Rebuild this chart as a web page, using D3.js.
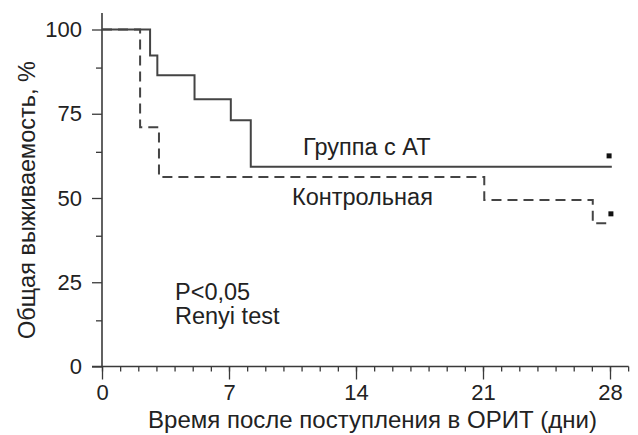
<!DOCTYPE html>
<html><head><meta charset="utf-8">
<script src="https://cdn.jsdelivr.net/npm/d3@7"></script>
<style>
body{margin:0;background:#fff;}
svg text{font-family:"Liberation Sans",Arial,Helvetica,sans-serif;fill:#222;}
</style></head>
<body><svg id="c" width="638" height="435"></svg>
<script>
// Data
const xTicks = [0, 7, 14, 21, 28];
const xMinorTicks = d3.range(0, 30);
const yTicks = [0, 25, 50, 75, 100];
const yMinorTicks = [13.7, 38.8, 63.7, 88.7];

const treatedTimes = [0, 2.65, 3.05, 5.1, 7.1, 8.2, 28.1];
const treatedSurv  = [100, 92.3, 86.4, 79.3, 73.1, 59.3, 59.3];
const controlTimes = [0, 2.1, 3.14, 21.07, 27.05, 28.05];
const controlSurv  = [100, 71.0, 56.2, 49.4, 42.5, 42.5];
const treatedCensor = [{t: 27.95, s: 62.5}];
const controlCensor = [{t: 28.05, s: 45.3}];

const svg = d3.select("#c");
const x = d3.scaleLinear().domain([0, 28]).range([102, 610]);
const y = d3.scaleLinear().domain([0, 100]).range([366.5, 29.5]);
const axisColor = "#3a3a3a";
const lineColor = "#444";
const labelSize = 23.5;

// Y axis
svg.append("line").attr("x1", x(0)).attr("x2", x(0)).attr("y1", 13).attr("y2", y(0))
  .attr("stroke", axisColor).attr("stroke-width", 1.6);
const yAxis = svg.append("g").attr("transform", `translate(${x(0)},0)`)
  .call(d3.axisLeft(y).tickValues(yTicks).tickSize(10).tickPadding(10).tickFormat(d3.format("d")));
yAxis.select(".domain").remove();
yAxis.selectAll(".tick line").attr("stroke", axisColor).attr("stroke-width", 1.3);
yAxis.selectAll(".tick text").attr("font-size", 22).attr("fill", "#222").attr("font-family", null);
const yMinor = svg.append("g").attr("transform", `translate(${x(0)},0)`)
  .call(d3.axisLeft(y).tickValues(yMinorTicks).tickSize(6).tickFormat(""));
yMinor.select(".domain").remove();
yMinor.selectAll(".tick line").attr("stroke", axisColor).attr("stroke-width", 1.3);

// X axis
svg.append("line").attr("x1", 92).attr("x2", x(29) + 0.5).attr("y1", y(0)).attr("y2", y(0))
  .attr("stroke", axisColor).attr("stroke-width", 1.6);
const xMinor = svg.append("g").attr("transform", `translate(0,${y(0)})`)
  .call(d3.axisBottom(x).tickValues(xMinorTicks).tickSize(5).tickFormat(""));
xMinor.select(".domain").remove();
xMinor.selectAll(".tick line").attr("stroke", axisColor).attr("stroke-width", 1.3);
const xAxis = svg.append("g").attr("transform", `translate(0,${y(0)})`)
  .call(d3.axisBottom(x).tickValues(xTicks).tickSize(13).tickPadding(5).tickFormat(d3.format("d")));
xAxis.select(".domain").remove();
xAxis.selectAll(".tick line").attr("stroke", axisColor).attr("stroke-width", 1.3);
xAxis.selectAll(".tick text").attr("font-size", 22).attr("fill", "#222").attr("font-family", null);

// Axis titles
svg.append("text").attr("x", 372.5).attr("y", 427.5).attr("text-anchor", "middle")
  .attr("font-size", 24).text("Время после поступления в ОРИТ (дни)");
svg.append("text").attr("transform", "translate(35,200) rotate(-90)").attr("text-anchor", "middle")
  .attr("font-size", labelSize).text("Общая выживаемость, %");

// Curves
const line = d3.line().x(d => x(d[0])).y(d => y(d[1])).curve(d3.curveStepAfter);
const tData = treatedTimes.map((t, i) => [t, treatedSurv[i]]);
const cData = controlTimes.map((t, i) => [t, controlSurv[i]]);
svg.append("path").attr("d", line(tData)).attr("fill", "none")
  .attr("stroke", lineColor).attr("stroke-width", 2);
svg.append("path").attr("d", line(cData)).attr("fill", "none")
  .attr("stroke", lineColor).attr("stroke-width", 2).attr("stroke-dasharray", "10,6");

// Censor marks
svg.selectAll(".cens").data(treatedCensor.concat(controlCensor)).enter().append("rect")
  .attr("x", d => x(d.t) - 2.5).attr("y", d => y(d.s) - 2.5).attr("width", 5).attr("height", 5)
  .attr("fill", "#111");

// Labels
svg.append("text").attr("x", 303).attr("y", 155).attr("font-size", labelSize).text("Группа с АТ");
svg.append("text").attr("x", 292).attr("y", 205).attr("font-size", labelSize).text("Контрольная");
svg.append("text").attr("x", 175).attr("y", 300).attr("font-size", labelSize).text("P<0,05");
svg.append("text").attr("x", 175).attr("y", 324).attr("font-size", labelSize).text("Renyi test");
</script></body></html>
